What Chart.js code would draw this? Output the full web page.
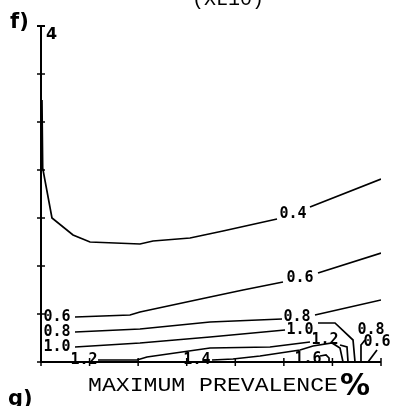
<!DOCTYPE html>
<html>
<head>
<meta charset="utf-8">
<script src="https://cdn.jsdelivr.net/npm/chart.js@4/dist/chart.umd.min.js"></script>
<style>
  html, body { margin: 0; padding: 0; background: #fff; }
  #wrap { width: 393px; height: 406px; position: relative; }
</style>
</head>
<body>
<div id="wrap"><canvas id="contourChart"></canvas></div>
<script>
// axis ticks (plain tick marks, 7 intervals on each axis)
const xTicks = [0, 1, 2, 3, 4, 5, 6, 7];
const yTicks = [0, 1, 2, 3, 4, 5, 6, 7];
const yTopLabel = '4';

// contour lines: [x, y] pairs, null = gap where the label sits
const level04 = [[0.02, 5.46], [0.035, 4.04], [0.226, 3.0], [0.659, 2.646], [1.009, 2.5], [2.038, 2.458],
    [2.306, 2.521], [3.068, 2.583], [3.747, 2.729], [4.859, 2.979], null, [5.538, 3.229], [7.0, 3.81]];
const level06 = [[0.70, 0.9375], [1.832, 0.979], [2.038, 1.042], [3.48, 1.354], [4.159, 1.5], [4.982, 1.667],
    null, [5.703, 1.854], [7.0, 2.271]];
const level08 = [[0.70, 0.625], [2.038, 0.6875], [3.48, 0.833], [4.962, 0.896], null, [5.641, 0.979], [7.0, 1.292]];
const level10 = [[0.70, 0.3125], [2.038, 0.396], [3.48, 0.521], [5.024, 0.667], null, [5.703, 0.8125],
    [6.053, 0.8125], [6.424, 0.458], [6.465, 0]];
const level12 = [[1.174, 0.042], [1.977, 0.042], [2.182, 0.104], [3.48, 0.292], [4.715, 0.3125], [5.538, 0.417],
    null, [6.156, 0.354], [6.30, 0.3125], [6.321, 0]];
const level14 = [[3.521, 0.042], [3.953, 0.0625], [4.509, 0.125], [5.333, 0.25], [5.60, 0.333], [5.991, 0.396],
    [6.156, 0.292], [6.218, 0]];
const level16 = [[5.744, 0.125], [5.868, 0.146], [5.93, 0.083], [5.93, 0]];
const level08b = [[6.568, 0], [6.588, 0.354], [6.671, 0.458]];
const level06b = [[6.733, 0], [6.918, 0.25]];

// contour labels: text and position
const contourLabels = [
    ['0.4', 5.19, 3.08], ['0.6', 5.333, 1.75], ['0.8', 5.271, 0.9375], ['1.0', 5.333, 0.667],
    ['1.2', 5.847, 0.458], ['1.6', 5.497, 0.06],
    ['0.6', 0.33, 0.9375], ['0.8', 0.33, 0.625], ['1.0', 0.33, 0.3125], ['1.2', 0.885, 0.04], ['1.4', 3.21, 0.04],
    ['0.8', 6.794, 0.667], ['0.6', 6.918, 0.417]
];

const allLevels = [level04, level06, level08, level10, level12, level14, level16, level08b, level06b];

// a gap becomes a point with no y so the line breaks there
function toPoints(arr) {
    return arr.map((p, i) => p ? { x: p[0], y: p[1] } : { x: (arr[i - 1][0] + arr[i + 1][0]) / 2, y: null });
}

const annotations = {
    id: 'annotations',
    afterDatasetsDraw(chart) {
        const { ctx, scales: { x, y } } = chart;
        const x0 = x.getPixelForValue(0), y0 = y.getPixelForValue(0);
        const xEnd = x.getPixelForValue(7), yTop = y.getPixelForValue(7);
        ctx.save();
        ctx.strokeStyle = '#000';
        ctx.fillStyle = '#000';

        // axes
        ctx.lineWidth = 2;
        ctx.beginPath();
        ctx.moveTo(x0, yTop);
        ctx.lineTo(x0, y0);
        ctx.lineTo(xEnd, y0);
        ctx.stroke();
        ctx.beginPath();
        ctx.moveTo(x0 - 4, yTop);
        ctx.lineTo(x0 + 4, yTop);
        ctx.stroke();

        // tick crosses
        ctx.lineWidth = 1.5;
        yTicks.forEach(t => {
            const py = y.getPixelForValue(t);
            ctx.beginPath();
            ctx.moveTo(x0 - 4, py);
            ctx.lineTo(x0 + 4, py);
            ctx.stroke();
        });
        xTicks.forEach(t => {
            const px = x.getPixelForValue(t);
            ctx.beginPath();
            ctx.moveTo(px, y0 - 4);
            ctx.lineTo(px, y0 + 4);
            ctx.stroke();
        });

        ctx.font = 'bold 16px "DejaVu Sans"';
        ctx.textAlign = 'left';
        ctx.textBaseline = 'middle';
        ctx.fillText(yTopLabel, x0 + 5, yTop + 9);

        // contour labels
        ctx.font = 'bold 15px "DejaVu Sans Mono"';
        ctx.textAlign = 'center';
        contourLabels.forEach(([txt, vx, vy]) => {
            const px = x.getPixelForValue(vx), py = y.getPixelForValue(vy);
            ctx.fillText(txt, px, py);
        });

        // axis title
        ctx.font = '21px "Liberation Mono"';
        ctx.textAlign = 'left';
        ctx.textBaseline = 'alphabetic';
        const title = 'MAXIMUM PREVALENCE';
        const w = ctx.measureText(title).width;
        ctx.save();
        ctx.translate(88, 391);
        ctx.scale(250 / w, 1);
        ctx.fillText(title, 0, 0);
        ctx.restore();
        ctx.font = 'bold 30px "DejaVu Sans"';
        ctx.fillText('%', 340, 395);

        // panel letters and scale note
        ctx.font = 'bold 21px "DejaVu Sans"';
        ctx.fillText('f)', 10, 28);
        ctx.fillText('g)', 8, 405);
        ctx.font = '20px "Liberation Mono"';
        ctx.fillText('(XL10)', 192, 5);
        ctx.restore();
    }
};

new Chart(document.getElementById('contourChart'), {
    type: 'line',
    data: {
        datasets: allLevels.map(lv => ({
            data: toPoints(lv),
            borderColor: '#000',
            borderWidth: 1.7,
            pointRadius: 0,
            tension: 0,
            spanGaps: false,
            fill: false
        }))
    },
    options: {
        responsive: true,
        maintainAspectRatio: false,
        animation: false,
        layout: { padding: { left: 41, right: 12, top: 26, bottom: 44 } },
        plugins: { legend: { display: false }, tooltip: { enabled: false } },
        scales: {
            x: { type: 'linear', min: 0, max: 7, display: false },
            y: { type: 'linear', min: 0, max: 7, display: false }
        }
    },
    plugins: [annotations]
});
</script>
</body>
</html>
